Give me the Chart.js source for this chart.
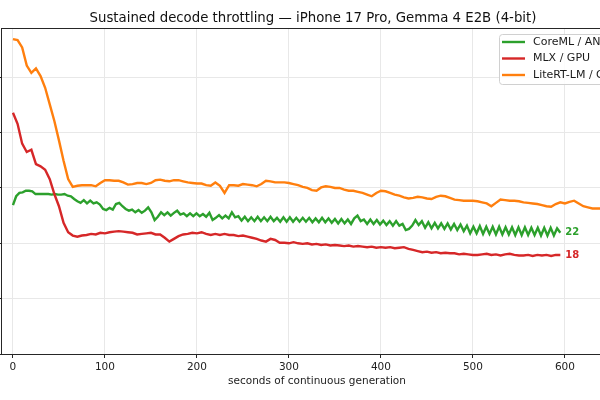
<!DOCTYPE html>
<html>
<head>
<meta charset="utf-8">
<title>Sustained decode throttling</title>
<script src="https://cdn.jsdelivr.net/npm/chart.js@4.4.1/dist/chart.umd.min.js"></script>
<style>
  html, body { margin: 0; padding: 0; background: #fff; }
  #stage { position: relative; width: 600px; height: 400px; overflow: hidden; }
  #chart-title { position: absolute; left: 0; top: 11px; width: 626px; text-align: center;
                 font: 13.3px "DejaVu Sans", sans-serif; line-height: 14px; color: #111; white-space: nowrap; }
  /* plot is wider than the window: y tick labels and the right edge fall outside, as in the source */
  #plot-box { position: absolute; left: -39px; top: 0; width: 680px; height: 400px; }
</style>
</head>
<body>
<div id="stage">
  <div id="plot-box"><canvas id="chart"></canvas></div>
  <div id="chart-title">Sustained decode throttling — iPhone 17 Pro, Gemma 4 E2B (4-bit)</div>
</div>
<script>
const FONT = "'DejaVu Sans', sans-serif";

// sample times (seconds)
const coremlSec = Array.from({ length: 171 }, (_, i) => i * 3.5);
const mlxSec = Array.from({ length: 120 }, (_, i) => i * 5);
const litertSec = Array.from({ length: 131 }, (_, i) => i * 5);

// decode speed, tokens/s
const coremlTps = [
  26.9, 28.5, 29.1, 29.2, 29.5, 29.5, 29.4, 28.9, 28.9, 28.9,
  28.9, 28.9, 28.8, 28.9, 28.8, 28.8, 28.9, 28.6, 28.5, 28.0,
  27.6, 27.3, 27.8, 27.2, 27.7, 27.2, 27.4, 27.0, 26.2, 26.0,
  26.4, 26.1, 27.1, 27.3, 26.7, 26.2, 25.9, 26.1, 25.6, 26.0,
  25.5, 25.9, 26.5, 25.6, 24.2, 24.8, 25.6, 25.1, 25.6, 25.0,
  25.5, 25.9, 25.2, 25.4, 24.9, 25.4, 24.9, 25.4, 24.9, 25.3,
  24.8, 25.5, 24.2, 24.6, 25.1, 24.5, 25.0, 24.5, 25.6, 24.7,
  24.9, 24.1, 24.8, 24.0, 24.7, 24.0, 24.8, 24.0, 24.7, 24.0,
  24.8, 24.0, 24.6, 23.9, 24.7, 23.9, 24.7, 23.9, 24.6, 23.9,
  24.6, 23.9, 24.6, 23.8, 24.5, 23.8, 24.6, 23.8, 24.5, 23.7,
  24.4, 23.6, 24.4, 23.6, 24.3, 23.5, 24.5, 25.0, 24.0, 24.3,
  23.5, 24.3, 23.5, 24.2, 23.4, 24.1, 23.3, 24.0, 23.2, 24.0,
  23.2, 23.5, 22.4, 22.6, 23.2, 24.2, 23.3, 24.0, 22.8, 23.8,
  22.7, 23.7, 22.7, 23.6, 22.6, 23.6, 22.5, 23.5, 22.4, 23.4,
  22.2, 23.2, 21.8, 23.0, 21.8, 23.1, 21.7, 23.0, 21.7, 23.0,
  21.6, 23.0, 21.6, 22.9, 21.6, 22.9, 21.5, 22.9, 21.5, 22.9,
  21.5, 22.8, 21.5, 22.8, 21.4, 22.8, 21.4, 22.8, 21.4, 22.7,
  21.9
];
const mlxTps = [
  43.6, 41.6, 38.0, 36.5, 36.9, 34.3, 33.9, 33.3, 31.6, 28.9,
  26.7, 23.7, 22.0, 21.4, 21.2, 21.4, 21.5, 21.7, 21.6, 21.9,
  21.8, 22.0, 22.1, 22.2, 22.1, 22.0, 21.9, 21.6, 21.7, 21.8,
  21.9, 21.6, 21.6, 21.0, 20.3, 20.8, 21.3, 21.6, 21.7, 21.9,
  21.8, 22.0, 21.7, 21.5, 21.7, 21.5, 21.7, 21.5, 21.5, 21.3,
  21.4, 21.2, 21.0, 20.8, 20.5, 20.3, 20.8, 20.6, 20.1, 20.1,
  20.0, 20.2, 20.0, 19.9, 20.0, 19.8, 19.9, 19.7, 19.8, 19.6,
  19.7, 19.6, 19.5, 19.6, 19.4, 19.5, 19.4, 19.3, 19.4, 19.2,
  19.3, 19.2, 19.3, 19.1, 19.2, 19.3, 19.0, 18.8, 18.6, 18.4,
  18.5, 18.3, 18.4, 18.2, 18.3, 18.2, 18.2, 18.0, 18.1, 18.0,
  17.9, 17.9, 18.0, 18.1, 17.9, 18.0, 17.8, 18.0, 18.1, 17.9,
  17.8, 17.8, 17.9, 17.7, 17.9, 17.8, 17.9, 17.7, 17.9, 17.9
];
const litertTps = [
  56.9, 56.7, 55.4, 52.1, 50.8, 51.6, 50.2, 48.1, 45.1, 42.1,
  38.6, 34.9, 31.6, 30.2, 30.4, 30.5, 30.5, 30.5, 30.3, 30.9,
  31.4, 31.4, 31.3, 31.3, 31.0, 30.6, 30.7, 30.9, 30.9, 30.7,
  30.9, 31.4, 31.5, 31.3, 31.2, 31.4, 31.4, 31.2, 31.0, 30.9,
  30.8, 30.8, 30.5, 30.4, 31.0, 30.4, 29.1, 30.5, 30.5, 30.4,
  30.7, 30.6, 30.5, 30.3, 30.7, 31.3, 31.2, 31.0, 31.0, 31.0,
  30.9, 30.7, 30.5, 30.2, 30.0, 29.6, 29.5, 30.1, 30.3, 30.2,
  30.0, 30.0, 29.7, 29.5, 29.5, 29.3, 29.1, 28.8, 28.5, 29.1,
  29.5, 29.4, 29.1, 28.8, 28.6, 28.3, 28.1, 28.2, 28.4, 28.3,
  28.1, 28.0, 28.4, 28.6, 28.5, 28.2, 27.9, 27.8, 27.7, 27.7,
  27.7, 27.6, 27.4, 27.2, 26.7, 27.3, 27.9, 27.8, 27.7, 27.7,
  27.6, 27.4, 27.3, 27.2, 27.1, 26.9, 26.7, 26.6, 27.1, 27.4,
  27.2, 27.5, 27.7, 27.2, 26.7, 26.5, 26.3, 26.3, 26.3, 26.3,
  26.3
];

const seriesLabels = ["CoreML / ANE", "MLX / GPU", "LiteRT-LM / GPU"];
const seriesColors = ["#2ca02c", "#d62728", "#ff7f0e"];
const endLabels = ["22", "18", null];
const xTicks = [0, 100, 200, 300, 400, 500, 600];
const yTicks = [0, 10, 20, 30, 40, 50];

function toPoints(xs, ys) {
  return xs.map((x, i) => ({ x: x, y: ys[i] }));
}

// axes frame on top of the lines (matplotlib spines)
const framePlugin = {
  id: "frame",
  afterDatasetsDraw(chart) {
    const { ctx, chartArea: a } = chart;
    ctx.save();
    ctx.strokeStyle = "#262626";
    ctx.lineWidth = 1;
    ctx.strokeRect(Math.round(a.left) + 0.5, Math.round(a.top) + 0.5,
                   Math.round(a.right - a.left), Math.round(a.bottom - a.top));
    ctx.restore();
  }
};

// value labels at the end of the CoreML and MLX lines
const endLabelPlugin = {
  id: "endLabels",
  afterDatasetsDraw(chart) {
    const ctx = chart.ctx;
    ctx.save();
    ctx.font = "bold 10px " + FONT;
    ctx.textBaseline = "middle";
    ctx.textAlign = "left";
    chart.data.datasets.forEach((ds, i) => {
      if (!ds.endLabel) return;
      const pts = chart.getDatasetMeta(i).data;
      const last = pts[pts.length - 1];
      ctx.fillStyle = ds.borderColor;
      ctx.fillText(ds.endLabel, last.x + 5, last.y);
    });
    ctx.restore();
  }
};

// legend box in the upper right corner of the axes
const cornerLegend = {
  id: "cornerLegend",
  afterDraw(chart) {
    const { ctx, chartArea: a } = chart;
    const right = a.right - 6, left = 538.5, top = 34.5, bottom = 84.5;
    ctx.save();
    ctx.beginPath();
    ctx.roundRect(left, top, right - left, bottom - top, 3);
    ctx.fillStyle = "rgba(255,255,255,0.85)";
    ctx.fill();
    ctx.strokeStyle = "#d0d0d0";
    ctx.lineWidth = 1;
    ctx.stroke();
    ctx.font = "11px " + FONT;
    ctx.textBaseline = "middle";
    chart.data.datasets.forEach((ds, i) => {
      const y = 42 + i * 16.5;
      ctx.strokeStyle = ds.borderColor;
      ctx.lineWidth = 2.4;
      ctx.beginPath();
      ctx.moveTo(541, y);
      ctx.lineTo(564, y);
      ctx.stroke();
      ctx.fillStyle = "#1a1a1a";
      ctx.fillText(ds.label, 572, y);
    });
    ctx.restore();
  }
};

const series = [
  { xs: coremlSec, ys: coremlTps, order: 3 },
  { xs: mlxSec, ys: mlxTps, order: 2 },
  { xs: litertSec, ys: litertTps, order: 1 }
];

new Chart(document.getElementById("chart"), {
  type: "line",
  data: {
    datasets: series.map((s, i) => ({
      label: seriesLabels[i],
      data: toPoints(s.xs, s.ys),
      borderColor: seriesColors[i],
      backgroundColor: seriesColors[i],
      borderWidth: 2.4,
      pointRadius: 0,
      tension: 0,
      order: s.order,
      endLabel: endLabels[i]
    }))
  },
  options: {
    responsive: true,
    maintainAspectRatio: false,
    animation: false,
    events: [],
    layout: { padding: { top: 28, right: 8, bottom: 0, left: 0 } },
    plugins: {
      legend: { display: false },
      tooltip: { enabled: false },
      title: { display: false }
    },
    scales: {
      x: {
        type: "linear",
        min: -13,
        max: 674,
        afterBuildTicks: s => { s.ticks = xTicks.map(v => ({ value: v })); },
        afterFit: s => { s.height = 46; },
        grid: { color: "#e8e8e8", tickColor: "#262626", tickLength: 4 },
        border: { display: false },
        ticks: { color: "#222", padding: 3, maxRotation: 0, font: { family: FONT, size: 10.5 } },
        title: {
          display: true,
          text: "seconds of continuous generation",
          color: "#222",
          font: { family: FONT, size: 10.5 },
          padding: { top: 0, bottom: 12 }
        }
      },
      y: {
        min: 0,
        max: 58.9,
        afterBuildTicks: s => { s.ticks = yTicks.map(v => ({ value: v })); },
        afterFit: s => { s.width = 40; },
        grid: { color: "#e8e8e8", tickColor: "#262626", tickLength: 4 },
        border: { display: false },
        ticks: { color: "#222", padding: 3, font: { family: FONT, size: 10.5 } }
      }
    }
  },
  plugins: [framePlugin, endLabelPlugin, cornerLegend]
});
</script>
</body>
</html>
